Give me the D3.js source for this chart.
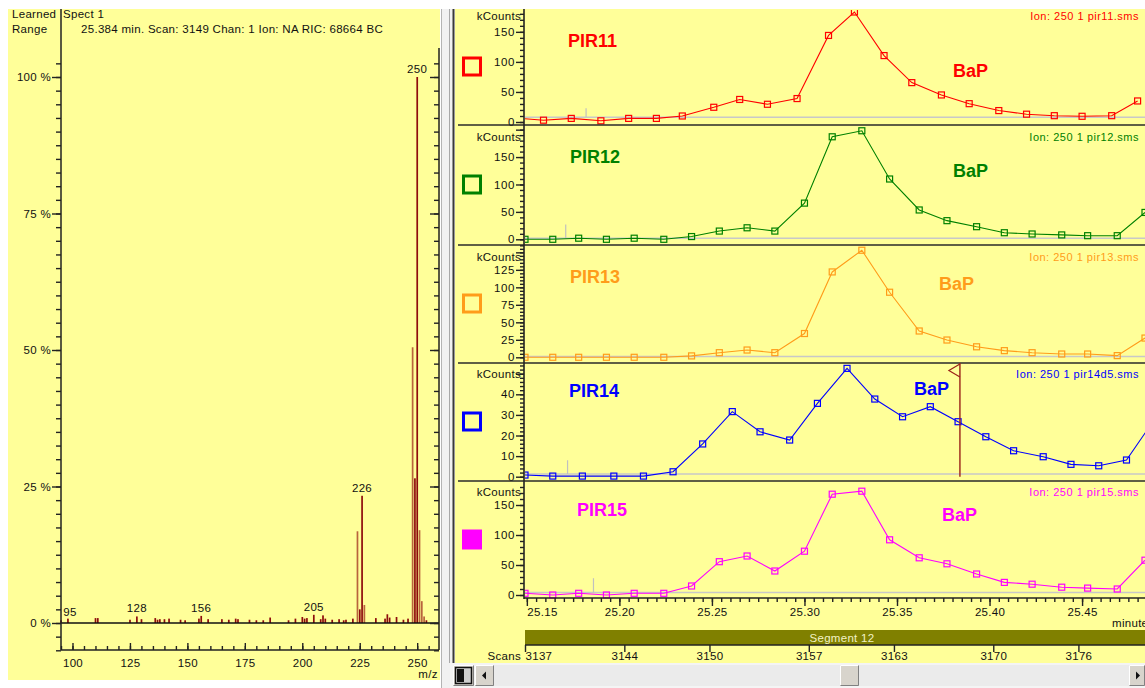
<!DOCTYPE html>
<html>
<head>
<meta charset="utf-8">
<script src="https://cdn.jsdelivr.net/npm/d3@7"></script>
<style>
  body { margin: 0; background: #fff; }
  svg { display: block; font-family: "Liberation Sans", Arial, sans-serif; }
</style>
</head>
<body>
<script>
const width = 1145;
const height = 688;
const yellow = '#ffff99';

// ---------- mass spectrum (left) ----------
const specMz = [95, 98, 110, 111, 125, 128, 130, 136, 137, 138, 140, 142, 147, 149, 155, 156, 159,
  165, 168, 171, 172, 177, 180, 183, 186, 194, 197, 200, 201, 202, 205, 208, 209, 210, 213, 216,
  218, 219, 222, 224, 225, 226, 227, 232, 236, 237, 238, 241, 244, 246, 248, 249, 250, 251, 252, 253, 254];
const specPct = [0.5, 0.8, 0.9, 0.9, 0.6, 1.2, 0.7, 0.9, 0.6, 0.7, 0.7, 0.8, 0.6, 0.5, 0.8, 1.3, 0.7,
  0.7, 0.6, 0.8, 0.7, 0.6, 0.5, 0.5, 1.0, 0.5, 0.8, 1.1, 0.8, 0.9, 1.5, 0.7, 1.4, 0.8, 0.6, 0.7,
  0.5, 0.6, 0.8, 16.8, 2.5, 23.3, 3.3, 0.9, 0.8, 1.6, 1.0, 1.1, 0.6, 0.8, 50.5, 26.5, 100, 17, 4, 1.2, 0.5];
const lightPeaks = [224, 227, 248, 251, 252, 253];
const labelledPeaks = [95, 128, 156, 205, 226, 250];
const pctTicks = [0, 25, 50, 75, 100];
const mzTicks = [100, 125, 150, 175, 200, 225, 250];

// ---------- ion chromatograms (right) ----------
const traceNames = ['PIR11', 'PIR12', 'PIR13', 'PIR14', 'PIR15'];
const traceFiles = ['Ion: 250 1 pir11.sms', 'Ion: 250 1 pir12.sms', 'Ion: 250 1 pir13.sms',
  'Ion: 250 1 pir14d5.sms', 'Ion: 250 1 pir15.sms'];
const traceColors = ['#ff0000', '#008000', '#ff9c1a', '#0000ff', '#ff00ff'];

const times11 = [25.146, 25.159, 25.174, 25.190, 25.205, 25.220, 25.234, 25.251, 25.265, 25.280, 25.296,
  25.313, 25.327, 25.343, 25.358, 25.374, 25.389, 25.405, 25.420, 25.435, 25.450, 25.466, 25.480];
const timesStd = [25.149, 25.164, 25.178, 25.193, 25.208, 25.224, 25.239, 25.254, 25.269, 25.284, 25.300,
  25.315, 25.331, 25.346, 25.362, 25.377, 25.393, 25.408, 25.423, 25.439, 25.453, 25.469, 25.484];
const times14 = [25.149, 25.164, 25.180, 25.197, 25.213, 25.229, 25.245, 25.261, 25.276, 25.292, 25.307,
  25.323, 25.338, 25.353, 25.368, 25.383, 25.398, 25.413, 25.429, 25.444, 25.459, 25.474, 25.490];

const pir11 = [6, 3, 6, 2, 6, 6, 10, 24.5, 37.5, 29.5, 39, 144, 183, 110.5, 65.5, 45, 30.5, 19, 13, 10.5, 9.5, 10.5, 35];
const pir12 = [0, 0, 2, 0, 2, 0, 5, 15, 21, 15, 66, 187, 198, 110, 53.5, 34, 23, 12, 9.7, 8, 6.6, 6.6, 49];
const pir13 = [0, 0, 0, 0, 0, 0, 2, 6.6, 10.4, 6.6, 34, 122, 153, 93, 37.6, 24.7, 15, 9.5, 6.6, 4.7, 4.7, 2.4, 27.5];
const pir14 = [0.8, 0.3, 0.3, 0.3, 0.3, 2.4, 15.9, 31.6, 21.8, 17.8, 35.6, 52.6, 37.7, 29.1, 34, 26.7, 19.4, 12.6, 9.7, 6, 5.3, 8.1, 29];
const pir15 = [2.8, 0, 2.8, 0, 2.8, 2.8, 15, 55.5, 65, 40, 73, 168, 173, 92, 62, 52, 35, 21, 18, 13, 11.5, 10, 58];

const yMaxes = [188, 208.5, 160.5, 55.2, 190];
const yMajorStep = [50, 50, 25, 10, 50];
const yMinorStep = [10, 10, 5, 2, 10];

// grey second trace under each chromatogram (baseline + small spike)
const greyLevel = [8, 2, 1, 1.3, 4];
const greySpikeTime = [25.182, 25.171, 25.171, 25.172, 25.186];
const greySpikeTop = [23, 27, 1, 8, 28];

const timeTicks = [25.15, 25.20, 25.25, 25.30, 25.35, 25.40, 25.45];
const scanTicks = [3137, 3144, 3150, 3157, 3163, 3170, 3176];
const cursorTime = 25.384;

// ---------- layout ----------
const panelTop = [9, 125, 245, 363, 481];
const panelZero = [122, 239.3, 357.3, 476.7, 595];
const nameX = [568, 570, 570, 569, 577];
const nameY = [47, 163, 283, 397, 516];
const bapX = [953, 953, 939, 914, 942];
const bapY = [77, 177, 290, 395, 521];
const infoY = [20, 140.5, 260.5, 378, 496];

const svg = d3.select('body').append('svg')
  .attr('width', width)
  .attr('height', height);

svg.append('rect').attr('width', width).attr('height', height).attr('fill', '#fff');

// ================= LEFT PANEL =================
const left = svg.append('g');
left.append('rect').attr('x', 8).attr('y', 9).attr('width', 432).attr('height', 671).attr('fill', yellow);

const small = sel => sel.attr('font-size', 11.5).attr('letter-spacing', 0.3).attr('fill', '#111');
left.append('text').attr('x', 12).attr('y', 18).text('Learned').call(small);
left.append('text').attr('x', 63).attr('y', 18).text('Spect 1').call(small);
left.append('text').attr('x', 12).attr('y', 33).text('Range').call(small);
left.append('text').attr('x', 81).attr('y', 33)
  .text('25.384 min. Scan: 3149 Chan: 1 Ion: NA RIC: 68664 BC').call(small);

const xMz = d3.scaleLinear().domain([95, 259.5]).range([61, 439]);
const yPct = d3.scaleLinear().domain([0, 100]).range([623, 77]);

const specData = specMz.map((m, i) => ({ mz: m, pct: specPct[i], light: lightPeaks.includes(m) }));

left.append('g').selectAll('rect')
  .data(specData)
  .join('rect')
  .attr('x', d => xMz(d.mz) - 0.8)
  .attr('width', 1.7)
  .attr('y', d => yPct(d.pct))
  .attr('height', d => yPct(0) - yPct(d.pct))
  .attr('fill', d => d.light ? '#b8643c' : '#8e0c0c');

// zero line
left.append('line')
  .attr('x1', 61).attr('x2', 439)
  .attr('y1', yPct(0)).attr('y2', yPct(0))
  .attr('stroke', '#111').attr('stroke-width', 1.5);

const pctMinor = d3.range(-2, 42).map(i => i * 2.5);
function styleAxis(g) {
  g.select('.domain').remove();
  g.selectAll('.tick line').attr('stroke', '#222').attr('stroke-width', 1.4);
  g.selectAll('.tick text').attr('fill', '#111').attr('font-size', 11.5)
    .attr('font-family', '"Liberation Sans", Arial, sans-serif').attr('letter-spacing', 0.3);
}

left.append('g').attr('transform', 'translate(61,0)')
  .call(d3.axisLeft(yPct).tickValues(pctMinor).tickSize(5).tickFormat(''))
  .call(styleAxis);
left.append('g').attr('transform', 'translate(61,0)')
  .call(d3.axisLeft(yPct).tickValues(pctTicks).tickSize(9).tickPadding(1).tickFormat(d => d + ' %'))
  .call(styleAxis);
left.append('g').attr('transform', 'translate(439,0)')
  .call(d3.axisRight(yPct).tickValues(pctMinor).tickSize(-5).tickFormat(''))
  .call(styleAxis);
left.append('g').attr('transform', 'translate(439,0)')
  .call(d3.axisRight(yPct).tickValues(pctTicks).tickSize(-9).tickFormat(''))
  .call(styleAxis);

const mzMinor = d3.range(19, 52).map(i => i * 5);
left.append('g').attr('transform', 'translate(0,650)')
  .call(d3.axisBottom(xMz).tickValues(mzMinor).tickSize(-4).tickFormat(''))
  .call(styleAxis);
left.append('g').attr('transform', 'translate(0,650)')
  .call(d3.axisBottom(xMz).tickValues(mzTicks).tickSize(-7).tickPadding(9))
  .call(styleAxis);

// axis frame lines
left.append('line').attr('x1', 61).attr('x2', 61).attr('y1', 9).attr('y2', 650)
  .attr('stroke', '#222').attr('stroke-width', 1.5);
left.append('line').attr('x1', 439).attr('x2', 439).attr('y1', 48).attr('y2', 650)
  .attr('stroke', '#222').attr('stroke-width', 1.5);
left.append('line').attr('x1', 61).attr('x2', 439).attr('y1', 650).attr('y2', 650)
  .attr('stroke', '#222').attr('stroke-width', 1.5);

left.append('text').attr('x', 428).attr('y', 678).attr('text-anchor', 'middle').text('m/z').call(small);

// peak labels
left.append('g').selectAll('text')
  .data(specData.filter(d => labelledPeaks.includes(d.mz)))
  .join('text')
  .attr('x', d => Math.max(xMz(d.mz), 70))
  .attr('y', d => yPct(d.pct) - 4)
  .attr('text-anchor', 'middle')
  .text(d => d.mz)
  .call(small);

// ================= DIVIDER =================
svg.append('rect').attr('x', 441).attr('y', 9).attr('width', 12).attr('height', 679).attr('fill', '#f1f1f1');
svg.append('line').attr('x1', 441.5).attr('x2', 441.5).attr('y1', 9).attr('y2', 688).attr('stroke', '#b4b4b4');
svg.append('line').attr('x1', 449.5).attr('x2', 449.5).attr('y1', 9).attr('y2', 663).attr('stroke', '#a8a8a8');

// ================= RIGHT PANEL =================
const right = svg.append('g');
right.append('rect').attr('x', 455).attr('y', 9).attr('width', 690).attr('height', 654).attr('fill', yellow);
right.append('line').attr('x1', 453.5).attr('x2', 453.5).attr('y1', 9).attr('y2', 663)
  .attr('stroke', '#3a3a3a').attr('stroke-width', 2);

const xTime = d3.scaleLinear().domain([25.149, 25.484]).range([525, 1145]);
const traceTimes = [times11, timesStd, timesStd, times14, timesStd];
const traceValues = [pir11, pir12, pir13, pir14, pir15];

const defs = svg.append('defs');

traceNames.forEach((name, i) => {
  const color = traceColors[i];
  const top = panelTop[i];
  const zero = panelZero[i];
  const y = d3.scaleLinear().domain([0, yMaxes[i]]).range([zero, top]);
  const g = right.append('g');

  // separator above panel
  if (i > 0) {
    g.append('line').attr('x1', 458).attr('x2', 1145).attr('y1', top).attr('y2', top)
      .attr('stroke', '#2a2a2a').attr('stroke-width', 1.7);
  }

  // y axis ticks (labels only where they clear the kCounts caption)
  const majors = d3.range(0, yMaxes[i], yMajorStep[i]);
  g.append('g').attr('transform', 'translate(524,0)')
    .call(d3.axisLeft(y).tickValues(d3.range(0, yMaxes[i], yMinorStep[i])).tickSize(4).tickFormat(''))
    .call(styleAxis);
  g.append('g').attr('transform', 'translate(524,0)')
    .call(d3.axisLeft(y).tickValues(majors).tickSize(8).tickPadding(1)
      .tickFormat(d => y(d) >= top + 15 ? d : ''))
    .call(styleAxis)
    .call(a => a.selectAll('.tick text').attr('letter-spacing', 0.6));

  g.append('text').attr('x', 521).attr('y', infoY[i]).attr('text-anchor', 'end')
    .text('kCounts').call(small);

  // legend square
  g.append('rect')
    .attr('x', 463.5).attr('y', (top + (i === 4 ? 599 : panelTop[i + 1])) / 2 - 9)
    .attr('width', 17).attr('height', 17)
    .attr('fill', i === 4 ? color : 'none')
    .attr('stroke', color).attr('stroke-width', 3);

  // clip
  const clipId = 'clip' + i;
  defs.append('clipPath').attr('id', clipId)
    .append('rect').attr('x', 525).attr('y', top + 1).attr('width', 620).attr('height', zero - top + 3);
  const plot = g.append('g').attr('clip-path', `url(#${clipId})`);

  // grey companion trace
  plot.append('line')
    .attr('x1', 524).attr('x2', 1145)
    .attr('y1', y(greyLevel[i])).attr('y2', y(greyLevel[i]))
    .attr('stroke', '#c8c8c8').attr('stroke-width', 1.5);
  plot.append('line')
    .attr('x1', xTime(greySpikeTime[i])).attr('x2', xTime(greySpikeTime[i]))
    .attr('y1', y(greyLevel[i])).attr('y2', y(greySpikeTop[i]))
    .attr('stroke', '#c0c0c0').attr('stroke-width', 1.2);

  const pts = traceTimes[i].map((t, k) => ({ t, v: traceValues[i][k] }));
  const line = d3.line().x(d => xTime(d.t)).y(d => y(d.v));
  plot.append('path').datum(pts).attr('d', line)
    .attr('fill', 'none').attr('stroke', color).attr('stroke-width', 1.1);
  plot.selectAll('rect.mk').data(pts).join('rect')
    .attr('class', 'mk')
    .attr('x', d => xTime(d.t) - 3).attr('y', d => y(d.v) - 3)
    .attr('width', 6).attr('height', 6)
    .attr('fill', 'none').attr('stroke', color).attr('stroke-width', 1.2);

  // texts
  g.append('text').attr('x', nameX[i]).attr('y', nameY[i]).text(name)
    .attr('font-size', 18).attr('font-weight', 'bold').attr('fill', color);
  g.append('text').attr('x', bapX[i]).attr('y', bapY[i]).text('BaP')
    .attr('font-size', 18).attr('font-weight', 'bold').attr('fill', color);
  g.append('text').attr('x', 1139).attr('y', infoY[i]).attr('text-anchor', 'end')
    .text(traceFiles[i]).attr('font-size', 11).attr('letter-spacing', 0.5).attr('fill', color);

  // cursor in PIR14 panel
  if (i === 3) {
    const cx = xTime(cursorTime);
    g.append('line').attr('x1', cx).attr('x2', cx).attr('y1', top).attr('y2', zero)
      .attr('stroke', '#9b2218').attr('stroke-width', 1.4);
    g.append('path')
      .attr('d', `M${cx},${top + 1}L${cx - 11},${top + 7.5}L${cx},${top + 14}`)
      .attr('fill', 'none').attr('stroke', '#9b2218').attr('stroke-width', 1.2);
  }
});

// y axis line and time axis
right.append('line').attr('x1', 524).attr('x2', 524).attr('y1', 9).attr('y2', 599)
  .attr('stroke', '#222').attr('stroke-width', 1.6);
right.append('line').attr('x1', 524).attr('x2', 1145).attr('y1', 598).attr('y2', 598)
  .attr('stroke', '#222').attr('stroke-width', 1.6);

const timeMinor = d3.range(5030, 5097).map(i => i / 200);
right.append('g').attr('transform', 'translate(0,598)')
  .call(d3.axisBottom(xTime).tickValues(timeMinor).tickSize(4).tickFormat(''))
  .call(styleAxis);
right.append('g').attr('transform', 'translate(0,598)')
  .call(d3.axisBottom(xTime).tickValues(timeTicks).tickSize(8).tickPadding(2).tickFormat(d3.format('.2f')))
  .call(styleAxis)
  .call(a => a.select('.tick text').attr('text-anchor', 'start'));

// the unit caption runs off the right edge in the original ("minu...")
right.append('text').attr('x', 1112).attr('y', 627).text('minutes').call(small);

// segment bar
right.append('rect').attr('x', 525).attr('y', 630).attr('width', 620).attr('height', 15).attr('fill', '#808000');
right.append('line').attr('x1', 525).attr('x2', 1145).attr('y1', 645).attr('y2', 645)
  .attr('stroke', '#222').attr('stroke-width', 1.4);
right.append('text').attr('x', 842).attr('y', 642).attr('text-anchor', 'middle')
  .text('Segment 12').attr('font-size', 11.5).attr('letter-spacing', 0.3).attr('fill', '#f2f2c4');

// scan axis
const xScan = d3.scaleLinear().domain([3137, 3137 + 620 / 14.19]).range([525, 1145]);
right.append('g').attr('transform', 'translate(0,645)')
  .call(d3.axisBottom(xScan).tickValues(scanTicks).tickSize(7).tickPadding(0).tickFormat(d3.format('d')))
  .call(styleAxis)
  .call(a => a.select('.tick text').attr('text-anchor', 'start'));
right.append('text').attr('x', 521).attr('y', 660).attr('text-anchor', 'end').text('Scans').call(small);

// ================= SCROLL BAR =================
const sb = svg.append('g');
sb.append('rect').attr('x', 450).attr('y', 663).attr('width', 695).attr('height', 25).attr('fill', '#f4f4f4');
sb.append('rect').attr('x', 494).attr('y', 665).attr('width', 635).attr('height', 21).attr('fill', '#ebebeb');

function button(x, w) {
  const b = sb.append('g');
  b.append('rect').attr('x', x).attr('y', 665).attr('width', w).attr('height', 21).attr('fill', '#d8d4cc');
  b.append('path').attr('d', `M${x + 0.5},${685.5}V${665.5}H${x + w - 0.5}`).attr('fill', 'none').attr('stroke', '#fff');
  b.append('path').attr('d', `M${x + 0.5},${685.5}H${x + w - 0.5}V${665.5}`).attr('fill', 'none').attr('stroke', '#808080');
  return b;
}
const icon = button(453, 21);
icon.append('rect').attr('x', 455.5).attr('y', 667.5).attr('width', 16).attr('height', 16)
  .attr('fill', '#cfcfcf').attr('stroke', '#111').attr('stroke-width', 1.5);
icon.append('rect').attr('x', 457).attr('y', 669).attr('width', 7).attr('height', 13).attr('fill', '#111');

const lb = button(475, 19);
lb.append('path').attr('d', 'M482,675.5L486,671.5V679.5Z').attr('fill', '#111');
button(840, 19);
const rb = button(1129, 16);
rb.append('path').attr('d', 'M1140,675.5L1136,671.5V679.5Z').attr('fill', '#111');
</script>
</body>
</html>
